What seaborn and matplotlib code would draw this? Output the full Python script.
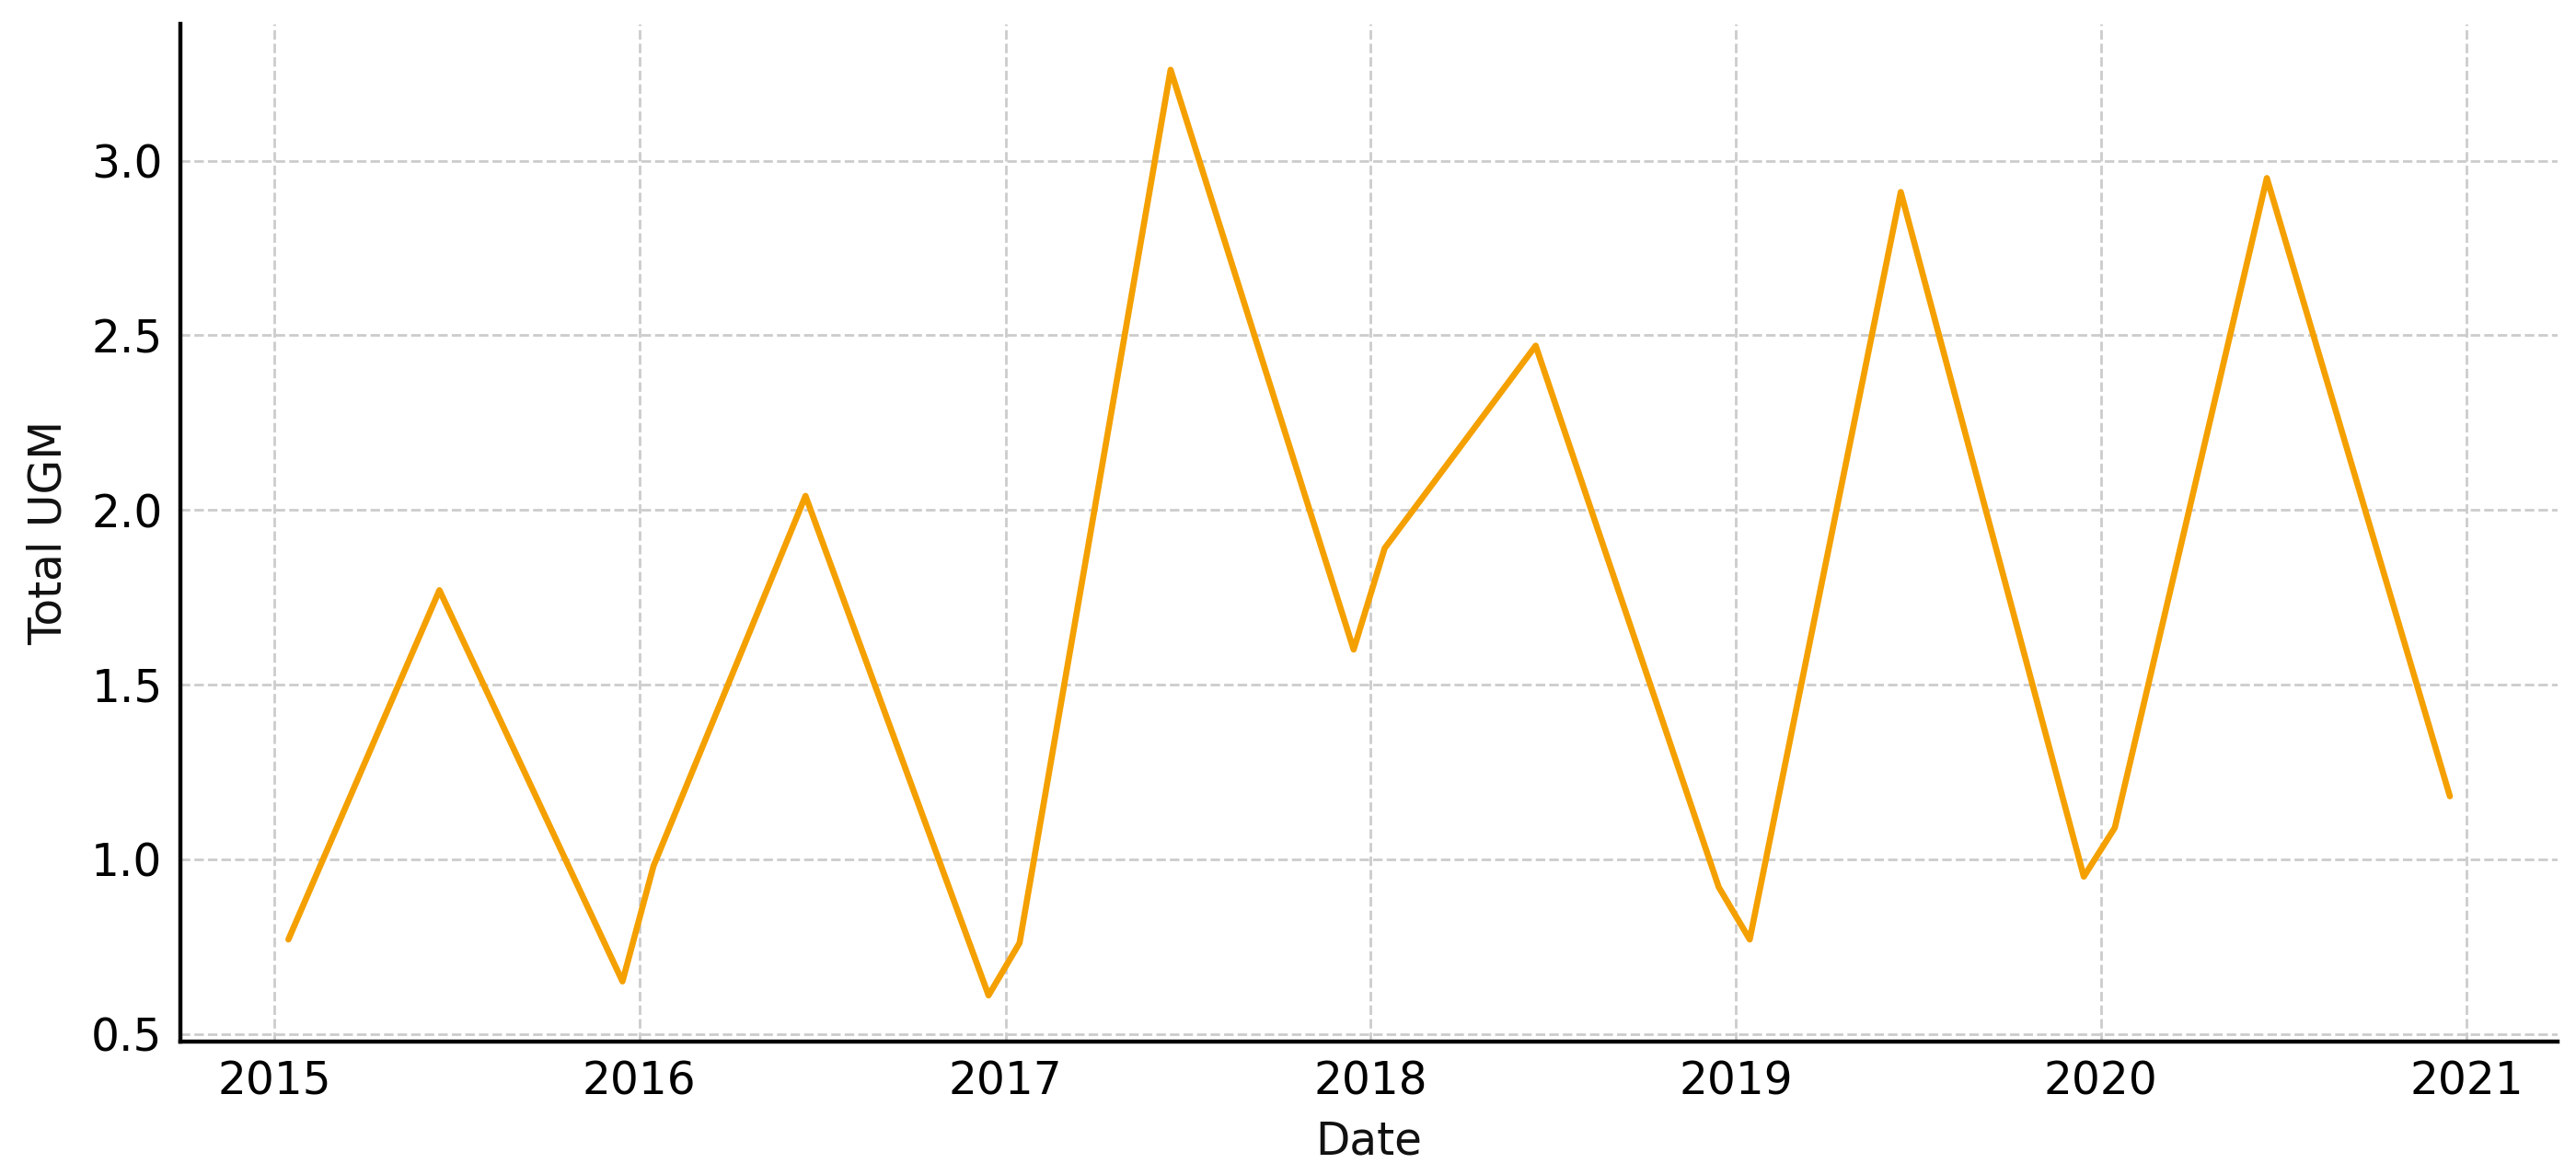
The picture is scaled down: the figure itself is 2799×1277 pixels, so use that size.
import pandas as pd
import matplotlib.pyplot as plt
import matplotlib.dates as mdates
import seaborn as sns

# Даты и значения
dates = ["2015-01-15", "2015-06-15", "2015-12-15",
         "2016-01-15", "2016-06-15", "2016-12-15",
         "2017-01-15", "2017-06-15", "2017-12-15",
         "2018-01-15", "2018-06-15", "2018-12-15",
         "2019-01-15", "2019-06-15", "2019-12-15",
         "2020-01-15", "2020-06-15", "2020-12-15"]
total_ugm = [0.77, 1.77, 0.65,
             0.98, 2.04, 0.61,
             0.76, 3.26, 1.60,
             1.89, 2.47, 0.92,
             0.77, 2.91, 0.95,
             1.09, 2.95, 1.18]
y_ticks = [0.5, 1.0, 1.5, 2.0, 2.5, 3.0]

df = pd.DataFrame({"Date": pd.to_datetime(dates), "Total UGM": total_ugm})

sns.set_style("white")
plt.rcParams["font.family"] = ["DejaVu Sans"]

fig, ax = plt.subplots(figsize=(13.995, 6.385), dpi=200)
fig.subplots_adjust(left=0.070, right=0.993, top=0.980, bottom=0.1135)

sns.lineplot(data=df, x="Date", y="Total UGM", color="#F4A000", linewidth=2.4, ax=ax)

ax.xaxis.set_major_locator(mdates.YearLocator())
ax.xaxis.set_major_formatter(mdates.DateFormatter("%Y"))
ax.set_yticks(y_ticks)

ax.grid(True, linestyle="--", color="#cccccc", linewidth=1.0)
ax.set_axisbelow(True)
sns.despine(ax=ax)
for side in ["left", "bottom"]:
    ax.spines[side].set_color("black")
    ax.spines[side].set_linewidth(1.6)

ax.tick_params(direction="in", length=5, width=1.2, pad=7, labelsize=17.5, colors="black")
ax.set_xlabel("Date", fontsize=17.5, labelpad=6, color="#111111")
ax.set_ylabel("Total UGM", fontsize=17.5, labelpad=8, color="#111111")

plt.savefig("out.png", dpi=200)
